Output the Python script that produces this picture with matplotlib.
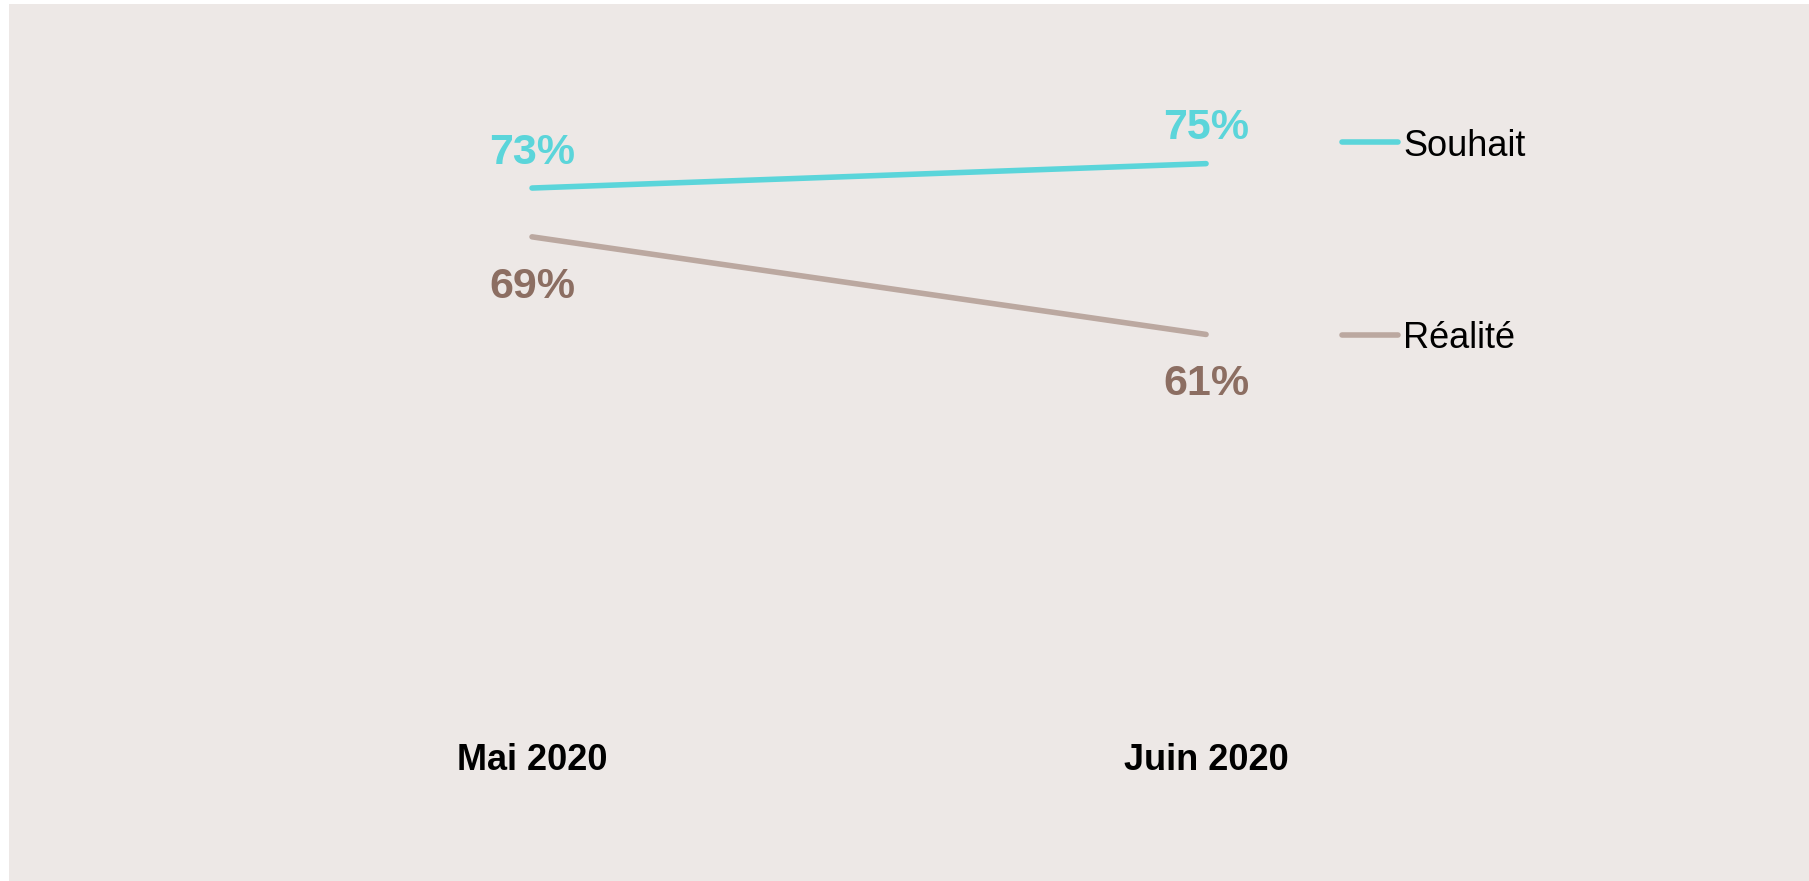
import matplotlib
matplotlib.use("Agg")
import matplotlib.pyplot as plt
from matplotlib.lines import Line2D
from matplotlib.patches import Rectangle

# --- données ---
periodes = ["Mai 2020", "Juin 2020"]
souhait = [73, 75]
realite = [69, 61]
series = ["Souhait", "Réalité"]

bg = "#EDE8E6"
c_souhait = "#5BD5DA"
c_realite = "#BBA8A0"
c_realite_txt = "#8C6E62"

plt.rcParams["font.family"] = ["Liberation Sans", "DejaVu Sans"]

W, H = 1809, 881
fig = plt.figure(figsize=(W / 100, H / 100), dpi=100)
fig.patch.set_facecolor("white")
fig.add_artist(Rectangle((9 / W, 0), 1 - 9 / W, 1 - 4 / H, transform=fig.transFigure,
                         facecolor=bg, edgecolor="none", zorder=-10))

ax = fig.add_axes([0.1078, 0.1911, 0.7452, 0.6924])
ax.set_facecolor("none")
x = list(range(len(periodes)))

ax.plot(x, souhait, color=c_souhait, lw=4, solid_capstyle="round")
ax.plot(x, realite, color=c_realite, lw=4, solid_capstyle="round")

# étiquettes de valeurs
for xi, v in zip(x, souhait):
    ax.annotate(f"{v}%", (xi, v), xytext=(0, 25.5), textcoords="offset points",
                ha="center", va="center", fontsize=31, fontweight="bold", color=c_souhait)
for xi, v in zip(x, realite):
    ax.annotate(f"{v}%", (xi, v), xytext=(0, -36), textcoords="offset points",
                ha="center", va="center", fontsize=31, fontweight="bold", color=c_realite_txt)

ax.set_xlim(-0.5, 1.5)
ax.set_ylim(30, 80)
ax.set_xticks(x)
ax.set_xticklabels(periodes, fontsize=26, fontweight="bold")
ax.tick_params(axis="x", length=0, pad=22)
ax.set_yticks([])
for s in ax.spines.values():
    s.set_visible(False)

# légende
for name, col, ypx in [(series[0], c_souhait, 142), (series[1], c_realite, 335)]:
    yf = 1 - ypx / H
    fig.add_artist(Line2D([1342 / W, 1398 / W], [yf, yf], transform=fig.transFigure,
                          color=col, lw=4, solid_capstyle="round"))
    fig.text(1403 / W, yf - 4 / H, name, fontsize=26, va="center", ha="left", color="black")

fig.savefig("out.png", dpi=100, facecolor=fig.get_facecolor())
